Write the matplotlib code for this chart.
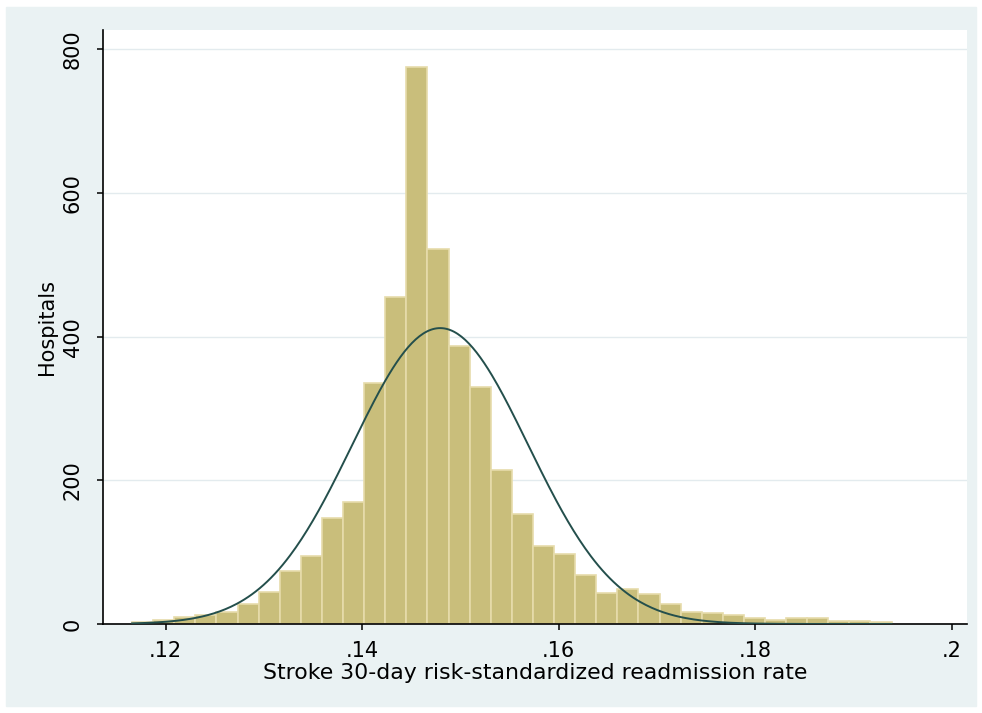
import numpy as np
import matplotlib
matplotlib.use("Agg")
import matplotlib.pyplot as plt
from matplotlib.patches import Rectangle

# histogram of hospital readmission rates (36 bins, Stata style)
bin_start = 0.1166
bin_width = 0.002146
counts = [3, 5, 10, 12, 17, 28, 45, 74, 94, 148, 170, 336, 455, 775, 522, 387,
          330, 214, 153, 108, 97, 68, 43, 49, 42, 28, 17, 15, 12, 8, 5, 8, 8, 4, 4, 3]

# normal overlay parameters
norm_mean = 0.14794
norm_sd = 0.00893

x_ticks = [0.12, 0.14, 0.16, 0.18, 0.20]
x_ticklabels = [".12", ".14", ".16", ".18", ".2"]
y_ticks = [0, 200, 400, 600, 800]

plt.rcParams['font.family'] = ['DejaVu Sans']

fig = plt.figure(figsize=(9.82, 7.13), dpi=100, facecolor='white')
fig.patches.append(Rectangle((6 / 982, 7 / 713), 970 / 982, 699 / 713,
                             transform=fig.transFigure, color='#eaf2f3', zorder=-1))

ax = fig.add_axes([103 / 982, 1 - 624 / 713, 864 / 982, 594 / 713])
ax.set_facecolor('white')

edges = bin_start + bin_width * np.arange(len(counts))
ax.bar(edges, counts, width=bin_width, align='edge',
       color='#c9be7b', edgecolor='#e6dcab', linewidth=1.2, zorder=2)

xs = np.linspace(bin_start, bin_start + bin_width * len(counts), 400)
n_total = sum(counts)
dens = n_total * bin_width / (norm_sd * np.sqrt(2 * np.pi)) * np.exp(-0.5 * ((xs - norm_mean) / norm_sd) ** 2)
ax.plot(xs, dens, color='#244f4c', linewidth=1.4, zorder=3)

ax.set_xlim(0.11364, 0.20153)
ax.set_ylim(0, 827)

ax.set_xticks(x_ticks)
ax.set_xticklabels(x_ticklabels)
ax.set_yticks(y_ticks)
ax.set_yticklabels([str(v) for v in y_ticks], rotation=90, va='center')

ax.yaxis.grid(True, color='#e3ebee', linewidth=1.0, zorder=0)
ax.set_axisbelow(True)

for s in ['top', 'right']:
    ax.spines[s].set_visible(False)
for s in ['left', 'bottom']:
    ax.spines[s].set_linewidth(1.2)
    ax.spines[s].set_color('black')

ax.tick_params(axis='both', direction='out', length=4.5, width=1.1, labelsize=15, colors='black')
ax.tick_params(axis='x', pad=8)
ax.tick_params(axis='y', pad=10)

ax.set_xlabel("Stroke 30-day risk-standardized readmission rate", fontsize=15.8, labelpad=1)
ax.set_ylabel("Hospitals", fontsize=15, labelpad=4)

fig.savefig("out.png", dpi=100, facecolor=fig.get_facecolor())
